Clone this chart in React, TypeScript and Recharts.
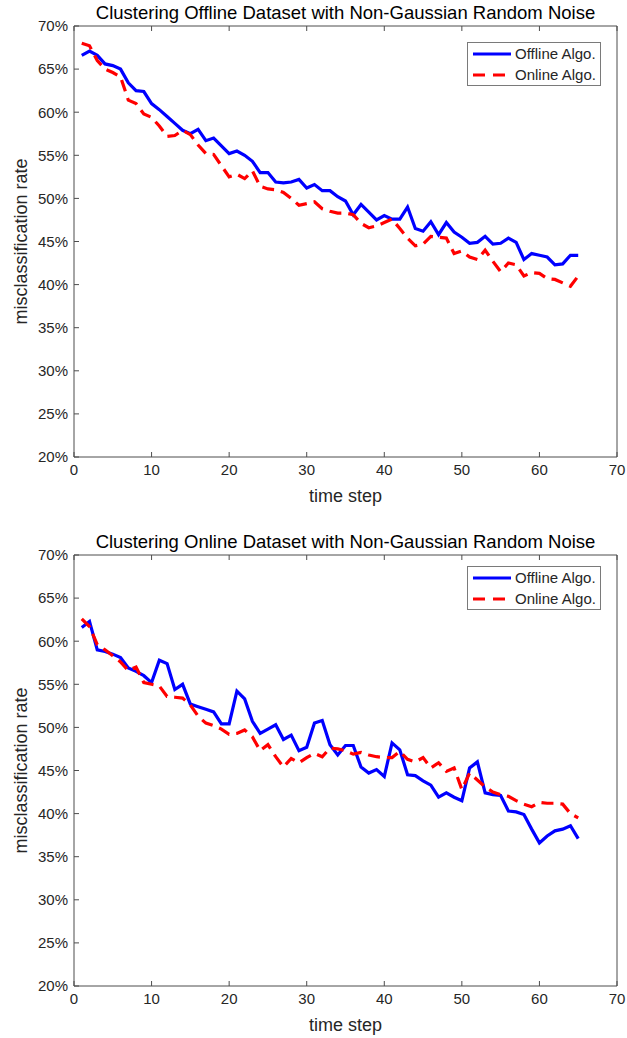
import { Legend, Line, LineChart, XAxis, YAxis } from "recharts";

const steps = Array.from({ length: 65 }, (_, i) => i + 1);
const xTicks = [0, 10, 20, 30, 40, 50, 60, 70];
const yTicks = [20, 25, 30, 35, 40, 45, 50, 55, 60, 65, 70];

// top plot: offline dataset
const offlineDataOfflineAlgo = [
  66.6, 67.1, 66.6, 65.6, 65.4, 65.0, 63.4, 62.5, 62.4, 61.0, 60.3, 59.5, 58.7,
  57.9, 57.5, 58.0, 56.7, 57.0, 56.1, 55.2, 55.5, 55.0, 54.3, 53.0, 53.0, 51.9,
  51.8, 51.9, 52.2, 51.2, 51.6, 50.9, 50.9, 50.2, 49.7, 48.1, 49.3, 48.4, 47.5,
  48.0, 47.6, 47.6, 49.0, 46.5, 46.2, 47.3, 45.8, 47.2, 46.1, 45.5, 44.8, 44.9,
  45.6, 44.7, 44.8, 45.4, 44.9, 42.9, 43.6, 43.4, 43.2, 42.3, 42.4, 43.4, 43.4,
];
const offlineDataOnlineAlgo = [
  68.0, 67.7, 66.0, 65.0, 64.6, 64.1, 61.4, 61.0, 59.8, 59.4, 58.4, 57.2, 57.3,
  57.9, 57.4, 56.2, 55.2, 55.1, 53.8, 52.5, 52.8, 52.3, 53.2, 51.4, 51.1, 51.0,
  50.7, 50.0, 49.2, 49.4, 49.6, 48.8, 48.5, 48.3, 48.3, 48.1, 47.1, 46.6, 46.8,
  47.2, 47.6, 46.5, 45.4, 44.5, 44.7, 45.6, 45.5, 45.4, 43.6, 43.9, 43.2, 42.9,
  44.0, 42.7, 41.5, 42.5, 42.3, 41.0, 41.4, 41.3, 40.7, 40.6, 40.2, 39.8, 41.0,
];

// bottom plot: online dataset
const onlineDataOfflineAlgo = [
  61.6, 62.3, 59.0, 58.8, 58.5, 58.1, 56.9, 56.5, 56.0, 55.2, 57.8, 57.4, 54.4,
  55.0, 52.7, 52.4, 52.1, 51.8, 50.4, 50.4, 54.2, 53.3, 50.7, 49.3, 49.8, 50.3,
  48.6, 49.1, 47.3, 47.7, 50.5, 50.8, 48.0, 46.8, 47.9, 47.9, 45.4, 44.7, 45.1,
  44.3, 48.2, 47.4, 44.5, 44.4, 43.8, 43.3, 41.9, 42.4, 41.9, 41.5, 45.3, 46.0,
  42.4, 42.2, 42.1, 40.3, 40.2, 39.9, 38.2, 36.6, 37.4, 38.0, 38.2, 38.6, 37.1,
];
const onlineDataOnlineAlgo = [
  62.6, 61.7, 59.6, 59.0, 58.3, 57.6, 56.6, 57.0, 55.2, 55.0, 54.8, 53.6, 53.5,
  53.4, 52.6, 51.3, 50.5, 50.2, 49.8, 49.2, 49.3, 49.7, 48.9, 47.3, 48.0, 46.6,
  45.4, 46.4, 45.9, 46.5, 47.0, 46.6, 47.6, 47.5, 47.3, 46.9, 47.1, 46.8, 46.6,
  46.5, 46.5, 47.2, 46.3, 46.0, 46.5, 45.3, 45.9, 44.9, 45.3, 42.8, 44.7, 43.9,
  43.1, 42.5, 42.2, 42.0, 41.5, 41.1, 40.8, 41.3, 41.2, 41.2, 41.1, 40.0, 39.5,
];

const AXIS = "#4d4d4d";
const TEXT = "#262626";
const FONT = "'Liberation Sans', Arial, sans-serif";

function buildRows(offline: number[], online: number[]) {
  return steps.map((t, i) => ({ t, offline: offline[i], online: online[i] }));
}

// empty tick label so only the inward tick marks are drawn
const NoLabel = () => <g />;

function LegendBox() {
  const row = (label: string, color: string, dash?: string) => (
    <div style={{ display: "flex", alignItems: "center", height: 21 }}>
      <svg width={42} height={8} style={{ marginLeft: 4 }}>
        <line x1={1} y1={4} x2={39} y2={4} stroke={color} strokeWidth={3} strokeDasharray={dash} />
      </svg>
      <span style={{ fontSize: 15, color: TEXT, marginLeft: 1 }}>{label}</span>
    </div>
  );
  return (
    <div
      style={{
        border: "1px solid #7a7a7a",
        background: "#fff",
        width: 134,
        height: 44,
        boxSizing: "border-box",
        fontFamily: FONT,
        textAlign: "left",
      }}
    >
      {row("Offline Algo.", "#0000ff")}
      {row("Online Algo.", "#ff0000", "12 8")}
    </div>
  );
}

function YLabel({ viewBox }: any) {
  const cx = 21;
  const cy = viewBox.y + viewBox.height / 2;
  return (
    <text
      x={cx}
      y={cy}
      transform={`rotate(-90, ${cx}, ${cy})`}
      textAnchor="middle"
      dominantBaseline="central"
      fontSize={18}
      fill={TEXT}
      fontFamily={FONT}
    >
      misclassification rate
    </text>
  );
}

interface PanelProps {
  title: string;
  offline: number[];
  online: number[];
  top: number;
  marginTop: number;
  legendTop: number;
}

function Panel({ title, offline, online, top, marginTop, legendTop }: PanelProps) {
  const rows = buildRows(offline, online);
  const plotBottom = 519 - marginTop - 431;
  return (
    <div style={{ position: "absolute", left: 0, top, width: 627, height: 519 }}>
      <LineChart
        width={627}
        height={519}
        data={rows}
        margin={{ top: marginTop - 1, right: 9, bottom: plotBottom - 50, left: 14 }}
      >
        <XAxis
          xAxisId="b"
          dataKey="t"
          type="number"
          domain={[0, 70]}
          ticks={xTicks}
          height={50}
          stroke={AXIS}
          tickSize={-5}
          tickMargin={12}
          tick={{ fill: TEXT, fontSize: 15, fontFamily: FONT }}
          label={{
            value: "time step",
            position: "insideBottom",
            offset: 5,
            fill: TEXT,
            fontSize: 18,
            fontFamily: FONT,
          }}
        />
        <XAxis
          xAxisId="t"
          orientation="top"
          dataKey="t"
          type="number"
          domain={[0, 70]}
          ticks={xTicks}
          height={1}
          stroke={AXIS}
          tickSize={-5}
          tick={NoLabel}
          label={{
            value: title,
            position: "top",
            offset: 6,
            fill: "#000",
            fontSize: 18.5,
            fontFamily: FONT,
          }}
        />
        <YAxis
          yAxisId="l"
          type="number"
          domain={[20, 70]}
          ticks={yTicks}
          width={60}
          stroke={AXIS}
          tickSize={-5}
          tickMargin={11}
          tickFormatter={(v: number) => `${v}%`}
          tick={{ fill: TEXT, fontSize: 15, fontFamily: FONT }}
          label={<YLabel />}
        />
        <YAxis
          yAxisId="r"
          orientation="right"
          type="number"
          domain={[20, 70]}
          ticks={yTicks}
          width={1}
          stroke={AXIS}
          tickSize={-5}
          tick={NoLabel}
        />
        <Legend
          layout="vertical"
          align="center"
          verticalAlign="middle"
          content={<LegendBox />}
          wrapperStyle={{ position: "absolute", left: 467, top: legendTop, width: 134, height: 44 }}
        />
        <Line
          xAxisId="b"
          yAxisId="l"
          type="linear"
          dataKey="offline"
          name="Offline Algo."
          stroke="#0000ff"
          strokeWidth={3.2}
          dot={false}
          isAnimationActive={false}
        />
        <Line
          xAxisId="b"
          yAxisId="l"
          type="linear"
          dataKey="online"
          name="Online Algo."
          stroke="#ff0000"
          strokeWidth={3.2}
          strokeDasharray="12 7"
          dot={false}
          isAnimationActive={false}
        />
      </LineChart>
    </div>
  );
}

export default function App() {
  return (
    <div
      style={{
        position: "absolute",
        left: 0,
        top: 0,
        width: 627,
        height: 1038,
        background: "#fff",
        fontFamily: FONT,
      }}
    >
      <Panel
        title="Clustering Offline Dataset with Non-Gaussian Random Noise"
        offline={offlineDataOfflineAlgo}
        online={offlineDataOnlineAlgo}
        top={0}
        marginTop={26}
        legendTop={42}
      />
      <Panel
        title="Clustering Online Dataset with Non-Gaussian Random Noise"
        offline={onlineDataOfflineAlgo}
        online={onlineDataOnlineAlgo}
        top={519}
        marginTop={36}
        legendTop={47}
      />
    </div>
  );
}
